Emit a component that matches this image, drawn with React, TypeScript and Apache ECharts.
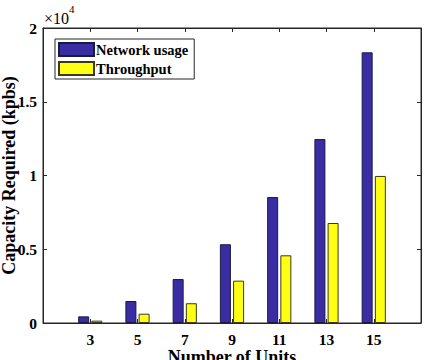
import React, { useEffect, useRef } from "react";
import * as echarts from "echarts";

// Number of units on the x axis
const units = [3, 5, 7, 9, 11, 13, 15];
// Required capacity (kbps) per series
const networkUsage = [450, 1490, 2980, 5340, 8540, 12470, 18350];
const throughput = [160, 630, 1340, 2870, 4590, 6780, 9970];
// Y tick values (raw units; labels are shown in ×10^4)
const yTicks = [0, 5000, 10000, 15000, 20000];

const FONT = "Liberation Serif";
const AXIS_COLOR = "#262626";

export default function App() {
  const ref = useRef<HTMLDivElement>(null);

  useEffect(() => {
    if (!ref.current) return;
    const chart = echarts.init(ref.current, null, { renderer: "svg" });

    const labelStyle = {
      fontFamily: FONT,
      fontWeight: "bold" as const,
      fontSize: 15.5,
      color: "#000",
    };
    const nameStyle = { ...labelStyle, fontSize: 18 };

    const xCommon = {
      type: "value" as const,
      min: 1,
      max: 17,
      splitLine: { show: false },
      axisLine: { show: true, onZero: false, lineStyle: { color: AXIS_COLOR, width: 1 } },
      axisTick: {
        show: true,
        inside: true,
        length: 4,
        customValues: units,
        lineStyle: { color: AXIS_COLOR },
      },
    };

    const yCommon = {
      type: "value" as const,
      min: 0,
      max: 20000,
      interval: 5000,
      splitLine: { show: false },
      axisLine: { show: true, onZero: false, lineStyle: { color: AXIS_COLOR, width: 1 } },
      axisTick: {
        show: true,
        inside: true,
        length: 4,
        customValues: yTicks,
        lineStyle: { color: AXIS_COLOR },
      },
    };

    chart.setOption({
      animation: false,
      backgroundColor: "#fff",
      textStyle: { fontFamily: FONT },
      grid: {
        left: 43,
        right: 8,
        top: 28,
        bottom: 37,
        containLabel: false,
        outerBoundsMode: "none",
        show: true,
        borderColor: AXIS_COLOR,
        borderWidth: 1,
        backgroundColor: "transparent",
      },
      legend: {
        orient: "vertical",
        left: 55,
        top: 39,
        padding: [3, 6, 3, 3],
        itemGap: 4,
        itemWidth: 35,
        itemHeight: 13,
        icon: "rect",
        backgroundColor: "#fff",
        borderColor: AXIS_COLOR,
        borderWidth: 1,
        borderRadius: 0,
        textStyle: { ...labelStyle, fontSize: 14.5, padding: [0, 0, 0, -3] },
        data: ["Network usage", "Throughput"],
      },
      graphic: [
        {
          type: "text",
          left: 44,
          top: 3,
          style: {
            text: "{a|×10}{b|4}",
            rich: {
              a: { fontFamily: FONT, fontSize: 16, fill: "#000", padding: [7, 0, 0, 0] },
              b: { fontFamily: FONT, fontSize: 11, fill: "#000", verticalAlign: "top" },
            },
          },
        },
      ],
      xAxis: [
        {
          ...xCommon,
          position: "bottom",
          name: "Number of Units",
          nameLocation: "middle",
          nameGap: 25,
          nameMoveOverlap: false,
          nameTextStyle: nameStyle,
          axisLabel: {
            ...labelStyle,
            margin: 8,
            customValues: units,
            formatter: (v: number) => String(v),
          },
        },
        {
          ...xCommon,
          position: "top",
          axisLabel: { show: false },
        },
      ],
      yAxis: [
        {
          ...yCommon,
          position: "left",
          name: "Capacity Required (kpbs)",
          nameLocation: "middle",
          nameGap: 25.5,
          nameMoveOverlap: false,
          nameTextStyle: nameStyle,
          axisLabel: {
            ...labelStyle,
            margin: 6,
            formatter: (v: number) => String(v / 10000),
          },
        },
        {
          ...yCommon,
          position: "right",
          axisLabel: { show: false },
        },
      ],
      series: [
        {
          name: "Network usage",
          type: "bar",
          xAxisIndex: 0,
          yAxisIndex: 0,
          barWidth: 11,
          barGap: "20%",
          itemStyle: { color: "#3a2ca3", borderColor: "#1a1a40", borderWidth: 1 },
          data: units.map((u, i) => [u, networkUsage[i]]),
        },
        {
          name: "Throughput",
          type: "bar",
          xAxisIndex: 0,
          yAxisIndex: 0,
          barWidth: 11,
          barGap: "20%",
          itemStyle: { color: "#ffff14", borderColor: "#3a3a1a", borderWidth: 1 },
          data: units.map((u, i) => [u, throughput[i]]),
        },
      ],
    });

    return () => chart.dispose();
  }, []);

  return (
    <div
      ref={ref}
      style={{ position: "fixed", left: 0, top: 0, width: 429, height: 360 }}
    />
  );
}
